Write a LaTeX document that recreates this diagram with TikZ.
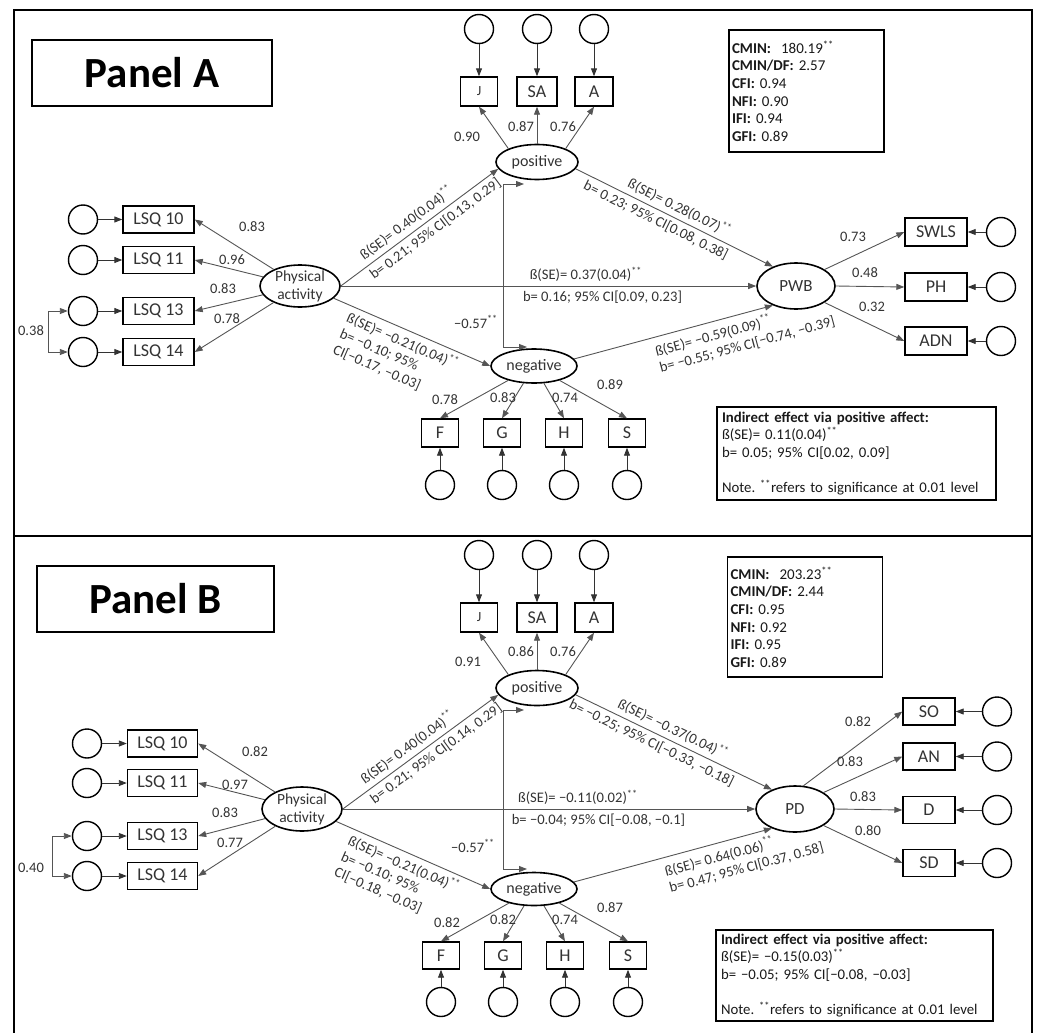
\documentclass[tikz,border=0pt]{standalone}
\usepackage{fontspec}
\setmainfont{Carlito}
\usetikzlibrary{arrows.meta,shapes.geometric,calc}
\newcommand\fs[2]{\fontsize{#1}{#2}\selectfont}
\definecolor{tx}{HTML}{333333}
\definecolor{ln}{HTML}{555555}
\begin{document}
\begin{tikzpicture}[x=1pt,y=-1pt,
  obs/.style={draw=black, line width=1.4pt, rectangle, inner sep=0pt, minimum height=28pt, font=\fs{18}{20}, text=tx},
  err/.style={circle, draw=black, line width=1.4pt, inner sep=0pt, minimum size=29pt},
  lat/.style={ellipse, draw=black, line width=1.6pt, inner sep=0pt, font=\fs{16}{18}, text=tx},
  con/.style={draw=ln, line width=0.9pt, -{Triangle[length=8pt,width=6pt]}},
  econ/.style={draw=black!80, line width=0.9pt, -{Triangle[length=8pt,width=6pt]}},
  dcon/.style={draw=ln, line width=0.9pt, {Triangle[length=8pt,width=6pt]}-{Triangle[length=8pt,width=6pt]}},
  ld/.style={font=\fs{14.5}{16}, text=tx, inner sep=0pt},
  pl/.style={font=\fs{14.6}{17}, text=tx, inner sep=1pt, sloped},
  frame/.style={draw=black, line width=1.3pt},
  titlebox/.style={draw=black, line width=1.3pt, font=\bfseries\fs{43}{46}, text=black},
  fitbox/.style={draw=black, line width=1.3pt, text width=149pt, inner xsep=3pt, align=left, font=\fs{15}{17.6}, text=black!90},
  indbox/.style={draw=black, line width=1.3pt, align=left, inner xsep=5pt, font=\fs{14.8}{17.5}, text=black!90},
  pat/.style={font=\fs{15.5}{18}, align=center, text=tx, inner sep=0pt},
]
\useasboundingbox (0,0) rectangle (1038,1033);
% frames
\draw[frame] (14,536) -- (14,10) -- (1032,10) -- (1032,536);
\draw[frame] (14,536) -- (14,1033);
\draw[frame] (1032,536) -- (1032,1033);
\draw[line width=2pt] (14,536) -- (1032,536);

%%%%%%%%%%%%%%%%%%%% PANEL A
\node[titlebox, minimum width=240pt, minimum height=66pt] (atitle) at (152,73) {Panel A};
\node[fitbox, minimum height=122pt] (afit) at (806.5,91) {\textbf{CMIN:}\ \ 180.19\textsuperscript{**}\\\textbf{CMIN/DF:} 2.57\\\textbf{CFI:} 0.94\\\textbf{NFI:} 0.90\\\textbf{IFI:} 0.94\\\textbf{GFI:} 0.89};
\node[indbox, text width=269pt, minimum height=93pt] (aind) at (856.5,453.5) {\textbf{Indirect effect via positive affect:}\\ß(SE)= 0.11(0.04)\textsuperscript{**}\\b= 0.05; 95\% CI[0.02, 0.09]\\[17.5pt]Note.~\textsuperscript{**}refers to significance at 0.01 level};

% positive affect indicators
\node[err] (aeJ) at (479,29) {};
\node[err] (aeSA) at (537,29) {};
\node[err] (aeA) at (594,29) {};
\node[obs, minimum width=37pt, minimum height=29pt, font=\fs{14}{16}] (aJ) at (479,91.5) {J};
\node[obs, minimum width=40pt, minimum height=29pt] (aSA) at (537,91.5) {SA};
\node[obs, minimum width=38pt, minimum height=29pt] (aA) at (594,91.5) {A};
\draw[econ] (aeJ) -- (aJ);
\draw[econ] (aeSA) -- (aSA);
\draw[econ] (aeA) -- (aA);
\node[lat, minimum width=82pt, minimum height=35pt] (apos) at (537,162) {positive};
\draw[con] (apos.155) -- (aJ.south);
\draw[con] (apos) -- (aSA);
\draw[con] (apos.25) -- (aA.south);
\node[ld] (alJ) at (467,137) {0.90};
\node[ld] (alSA) at (521,127) {0.87};
\node[ld] (alA) at (563,127) {0.76};

% physical activity indicators
\node[obs, minimum width=71pt, minimum height=27pt] (aL10) at (158.5,219.5) {LSQ 10};
\node[obs, minimum width=71pt, minimum height=27pt] (aL11) at (158.5,260) {LSQ 11};
\node[obs, minimum width=71pt, minimum height=27pt] (aL13) at (158.5,311) {LSQ 13};
\node[obs, minimum width=71pt, minimum height=27pt] (aL14) at (158.5,352) {LSQ 14};
\node[err] (aeL10) at (83,219.5) {};
\node[err] (aeL11) at (83,260) {};
\node[err] (aeL13) at (83,311) {};
\node[err] (aeL14) at (83,352) {};
\draw[econ] (aeL10) -- (aL10);
\draw[econ] (aeL11) -- (aL11);
\draw[econ] (aeL13) -- (aL13);
\draw[econ] (aeL14) -- (aL14);
\draw[dcon] (aeL13.west) -- ++(-19,0) |- (aeL14.west);
\node[ld] (acov) at (31,331) {0.38};
\node[lat, minimum width=80pt, minimum height=42pt] (aPA) at (300,286) {};
\node[pat] (aPAt) at (aPA) {Physical\\activity};
\draw[con] (aPA) -- (aL10.east);
\draw[con] (aPA) -- (aL11.east);
\draw[con] (aPA) -- (aL13.east);
\draw[con] (aPA) -- (aL14.east);
\node[ld] (alL10) at (252,227) {0.83};
\node[ld] (alL11) at (232,260) {0.96};
\node[ld] (alL13) at (223,289) {0.83};
\node[ld] (alL14) at (227,319) {0.78};

% outcome
\node[lat, minimum width=78pt, minimum height=46pt, font=\fs{17}{19}] (aPWB) at (796,286) {PWB};
\node[obs, minimum width=62pt] (aSWLS) at (936,232) {SWLS};
\node[obs, minimum width=62pt] (aPH) at (936,287) {PH};
\node[obs, minimum width=62pt] (aADN) at (936,341) {ADN};
\node[err] (aeSWLS) at (1001,232) {};
\node[err] (aePH) at (1001,287) {};
\node[err] (aeADN) at (1001,341) {};
\draw[econ] (aeSWLS) -- (aSWLS);
\draw[econ] (aePH) -- (aPH);
\draw[econ] (aeADN) -- (aADN);
\draw[con] (aPWB.30) -- (aSWLS.west);
\draw[con] (aPWB.east) -- (aPH.west);
\draw[con] (aPWB.-30) -- (aADN.west);
\node[ld] (alSWLS) at (853,237) {0.73};
\node[ld] (alPH) at (865,273) {0.48};
\node[ld] (alADN) at (872,307) {0.32};

% negative affect
\node[lat, minimum width=86pt, minimum height=34pt] (aneg) at (534,366) {negative};
\node[obs, minimum width=37pt] (aF) at (440,433) {F};
\node[obs, minimum width=37pt] (aG) at (502,433) {G};
\node[obs, minimum width=37pt] (aH) at (564,433) {H};
\node[obs, minimum width=37pt] (aS) at (627,433) {S};
\node[err] (aeF) at (440,485) {};
\node[err] (aeG) at (502,485) {};
\node[err] (aeH) at (564,485) {};
\node[err] (aeS) at (627,485) {};
\draw[econ] (aeF) -- (aF);
\draw[econ] (aeG) -- (aG);
\draw[econ] (aeH) -- (aH);
\draw[econ] (aeS) -- (aS);
\draw[con] (aneg) -- (aF.north);
\draw[con] (aneg) -- (aG.north);
\draw[con] (aneg) -- (aH.north);
\draw[con] (aneg) -- (aS.north);
\node[ld] (alF) at (445,400) {0.78};
\node[ld] (alG) at (503,398) {0.83};
\node[ld] (alH) at (565,398) {0.74};
\node[ld] (alS) at (610,385) {0.89};

% structural paths
\draw[con] (aPA.east) -- (apos.190)
  node[pl, pos=0.46, above=3pt] (ap1a) {ß(SE)= 0.40(0.04)\textsuperscript{**}}
  node[pl, pos=0.56, below=3pt] (ap1b) {b= 0.21; 95\% CI[0.13, 0.29]};
\draw[con] (aPA.east) -- (aPWB.west)
  node[pl, pos=0.59, above=3pt] (ap2a) {ß(SE)= 0.37(0.04)\textsuperscript{**}}
  node[pl, pos=0.63, below=3pt] (ap2b) {b= 0.16; 95\% CI[0.09, 0.23]};
\draw[con] (aPA.-20) -- (aneg.west)
  node[pl, pos=0.47, below=3pt, align=left] (ap3) {ß(SE)= −0.21(0.04)\textsuperscript{**}\\b= −0.10; 95\%\\CI[−0.17, −0.03]};
\draw[con] (apos.-10) -- (aPWB.140)
  node[pl, pos=0.5, above=3pt] (ap4a) {ß(SE)= 0.28(0.07)\textsuperscript{**}}
  node[pl, pos=0.43, below=3pt] (ap4b) {b= 0.23; 95\% CI[0.08, 0.38]};
\draw[con] (aneg.10) -- (aPWB.220)
  node[pl, pos=0.83, below=5pt, align=left] (ap5) {ß(SE)= −0.59(0.09)\textsuperscript{**}\\b= −0.55; 95\% CI[−0.74, −0.39]};
\coordinate (acA) at (524,184);
\coordinate (acC) at (503,347);
\coordinate (acB) at (527,347);
\draw[dcon] (acA) -| (acC) -- (acB);
\node[ld] (acorr) at (476,322) {−0.57\textsuperscript{**}};

%%%%%%%%%%%%%%%%%%%% PANEL B
\node[titlebox, minimum width=237pt, minimum height=66pt] (btitle) at (155.5,599) {Panel B};
\node[fitbox, minimum height=120pt] (bfit) at (805,617) {\textbf{CMIN:}\ \ 203.23\textsuperscript{**}\\\textbf{CMIN/DF:} 2.44\\\textbf{CFI:} 0.95\\\textbf{NFI:} 0.92\\\textbf{IFI:} 0.95\\\textbf{GFI:} 0.89};
\node[indbox, text width=267pt, minimum height=91pt] (bind) at (854.5,975.5) {\textbf{Indirect effect via positive affect:}\\ß(SE)= −0.15(0.03)\textsuperscript{**}\\b= −0.05; 95\% CI[−0.08, −0.03]\\[17.5pt]Note.~\textsuperscript{**}refers to significance at 0.01 level};

\node[err] (beJ) at (479,555) {};
\node[err] (beSA) at (537,555) {};
\node[err] (beA) at (594,555) {};
\node[obs, minimum width=37pt, minimum height=29pt, font=\fs{14}{16}] (bJ) at (479,617.5) {J};
\node[obs, minimum width=40pt, minimum height=29pt] (bSA) at (537,617.5) {SA};
\node[obs, minimum width=38pt, minimum height=29pt] (bA) at (594,617.5) {A};
\draw[econ] (beJ) -- (bJ);
\draw[econ] (beSA) -- (bSA);
\draw[econ] (beA) -- (bA);
\node[lat, minimum width=82pt, minimum height=35pt] (bpos) at (537,688) {positive};
\draw[con] (bpos.155) -- (bJ.south);
\draw[con] (bpos) -- (bSA);
\draw[con] (bpos.25) -- (bA.south);
\node[ld] (blJ) at (468,662) {0.91};
\node[ld] (blSA) at (521,652) {0.86};
\node[ld] (blA) at (563,652) {0.76};

\node[obs, minimum width=70pt, minimum height=27pt] (bL10) at (162.5,743.5) {LSQ 10};
\node[obs, minimum width=70pt, minimum height=27pt] (bL11) at (162.5,783) {LSQ 11};
\node[obs, minimum width=70pt, minimum height=27pt] (bL13) at (162.5,836) {LSQ 13};
\node[obs, minimum width=70pt, minimum height=27pt] (bL14) at (162.5,876) {LSQ 14};
\node[err] (beL10) at (87,743.5) {};
\node[err] (beL11) at (87,783) {};
\node[err] (beL13) at (87,836) {};
\node[err] (beL14) at (87,876) {};
\draw[econ] (beL10) -- (bL10);
\draw[econ] (beL11) -- (bL11);
\draw[econ] (beL13) -- (bL13);
\draw[econ] (beL14) -- (bL14);
\draw[dcon] (beL13.west) -- ++(-19,0) |- (beL14.west);
\node[ld] (bcov) at (31,868) {0.40};
\node[lat, minimum width=80pt, minimum height=44pt] (bPA) at (302,809) {};
\node[pat] (bPAt) at (bPA) {Physical\\activity};
\draw[con] (bPA) -- (bL10.east);
\draw[con] (bPA) -- (bL11.east);
\draw[con] (bPA) -- (bL13.east);
\draw[con] (bPA) -- (bL14.east);
\node[ld] (blL10) at (255,752) {0.82};
\node[ld] (blL11) at (235,785) {0.97};
\node[ld] (blL13) at (225,813) {0.83};
\node[ld] (blL14) at (230,843) {0.77};

\node[lat, minimum width=78pt, minimum height=46pt, font=\fs{17}{19}] (bPD) at (795,809) {PD};
\node[obs, minimum width=52pt, minimum height=27pt] (bSO) at (929,711.5) {SO};
\node[obs, minimum width=52pt, minimum height=27pt] (bAN) at (929,756.5) {AN};
\node[obs, minimum width=52pt, minimum height=27pt] (bD) at (929,810) {D};
\node[obs, minimum width=52pt, minimum height=27pt] (bSD) at (929,863) {SD};
\node[err] (beSO) at (997,711.5) {};
\node[err] (beAN) at (997,756.5) {};
\node[err] (beD) at (997,810) {};
\node[err] (beSD) at (997,863) {};
\draw[econ] (beSO) -- (bSO);
\draw[econ] (beAN) -- (bAN);
\draw[econ] (beD) -- (bD);
\draw[econ] (beSD) -- (bSD);
\draw[con] (bPD.70) -- (bSO.west);
\draw[con] (bPD.30) -- (bAN.west);
\draw[con] (bPD.east) -- (bD.west);
\draw[con] (bPD.-30) -- (bSD.west);
\node[ld] (blSO) at (858,722) {0.82};
\node[ld] (blAN) at (850,762) {0.83};
\node[ld] (blD) at (863,797) {0.83};
\node[ld] (blSD) at (868,831) {0.80};

\node[lat, minimum width=86pt, minimum height=33pt] (bneg) at (534,889) {negative};
\node[obs, minimum width=37pt, minimum height=27pt] (bF) at (441,955.5) {F};
\node[obs, minimum width=37pt, minimum height=27pt] (bG) at (503,955.5) {G};
\node[obs, minimum width=37pt, minimum height=27pt] (bH) at (565,955.5) {H};
\node[obs, minimum width=37pt, minimum height=27pt] (bS) at (628,955.5) {S};
\node[err] (beF) at (441,1002) {};
\node[err] (beG) at (503,1002) {};
\node[err] (beH) at (565,1002) {};
\node[err] (beS) at (628,1002) {};
\draw[econ] (beF) -- (bF);
\draw[econ] (beG) -- (bG);
\draw[econ] (beH) -- (bH);
\draw[econ] (beS) -- (bS);
\draw[con] (bneg) -- (bF.north);
\draw[con] (bneg) -- (bG.north);
\draw[con] (bneg) -- (bH.north);
\draw[con] (bneg) -- (bS.north);
\node[ld] (blF) at (447,923) {0.82};
\node[ld] (blG) at (503,920) {0.82};
\node[ld] (blH) at (565,920) {0.74};
\node[ld] (blS) at (610,908) {0.87};

\draw[con] (bPA.east) -- (bpos.190)
  node[pl, pos=0.46, above=3pt] (bp1a) {ß(SE)= 0.40(0.04)\textsuperscript{**}}
  node[pl, pos=0.56, below=3pt] (bp1b) {b= 0.21; 95\% CI[0.14, 0.29]};
\draw[con] (bPA.east) -- (bPD.west)
  node[pl, pos=0.57, above=3pt] (bp2a) {ß(SE)= −0.11(0.02)\textsuperscript{**}}
  node[pl, pos=0.62, below=3pt] (bp2b) {b= −0.04; 95\% CI[−0.08, −0.1]};
\draw[con] (bPA.-20) -- (bneg.west)
  node[pl, pos=0.47, below=3pt, align=left] (bp3) {ß(SE)= −0.21(0.04)\textsuperscript{**}\\b= −0.10; 95\%\\CI[−0.18, −0.03]};
\draw[con] (bpos.-10) -- (bPD.140)
  node[pl, pos=0.47, above=3pt] (bp4a) {ß(SE)= −0.37(0.04)\textsuperscript{**}}
  node[pl, pos=0.41, below=3pt] (bp4b) {b= −0.25; 95\% CI[−0.33, −0.18]};
\draw[con] (bneg.10) -- (bPD.220)
  node[pl, pos=0.83, below=5pt, align=left] (bp5) {ß(SE)= 0.64(0.06)\textsuperscript{**}\\b= 0.47; 95\% CI[0.37, 0.58]};
\coordinate (bcA) at (524,710);
\coordinate (bcC) at (503,869);
\coordinate (bcB) at (527,869);
\draw[dcon] (bcA) -| (bcC) -- (bcB);
\node[ld] (bcorr) at (473,846) {−0.57\textsuperscript{**}};
\end{tikzpicture}
\end{document}
